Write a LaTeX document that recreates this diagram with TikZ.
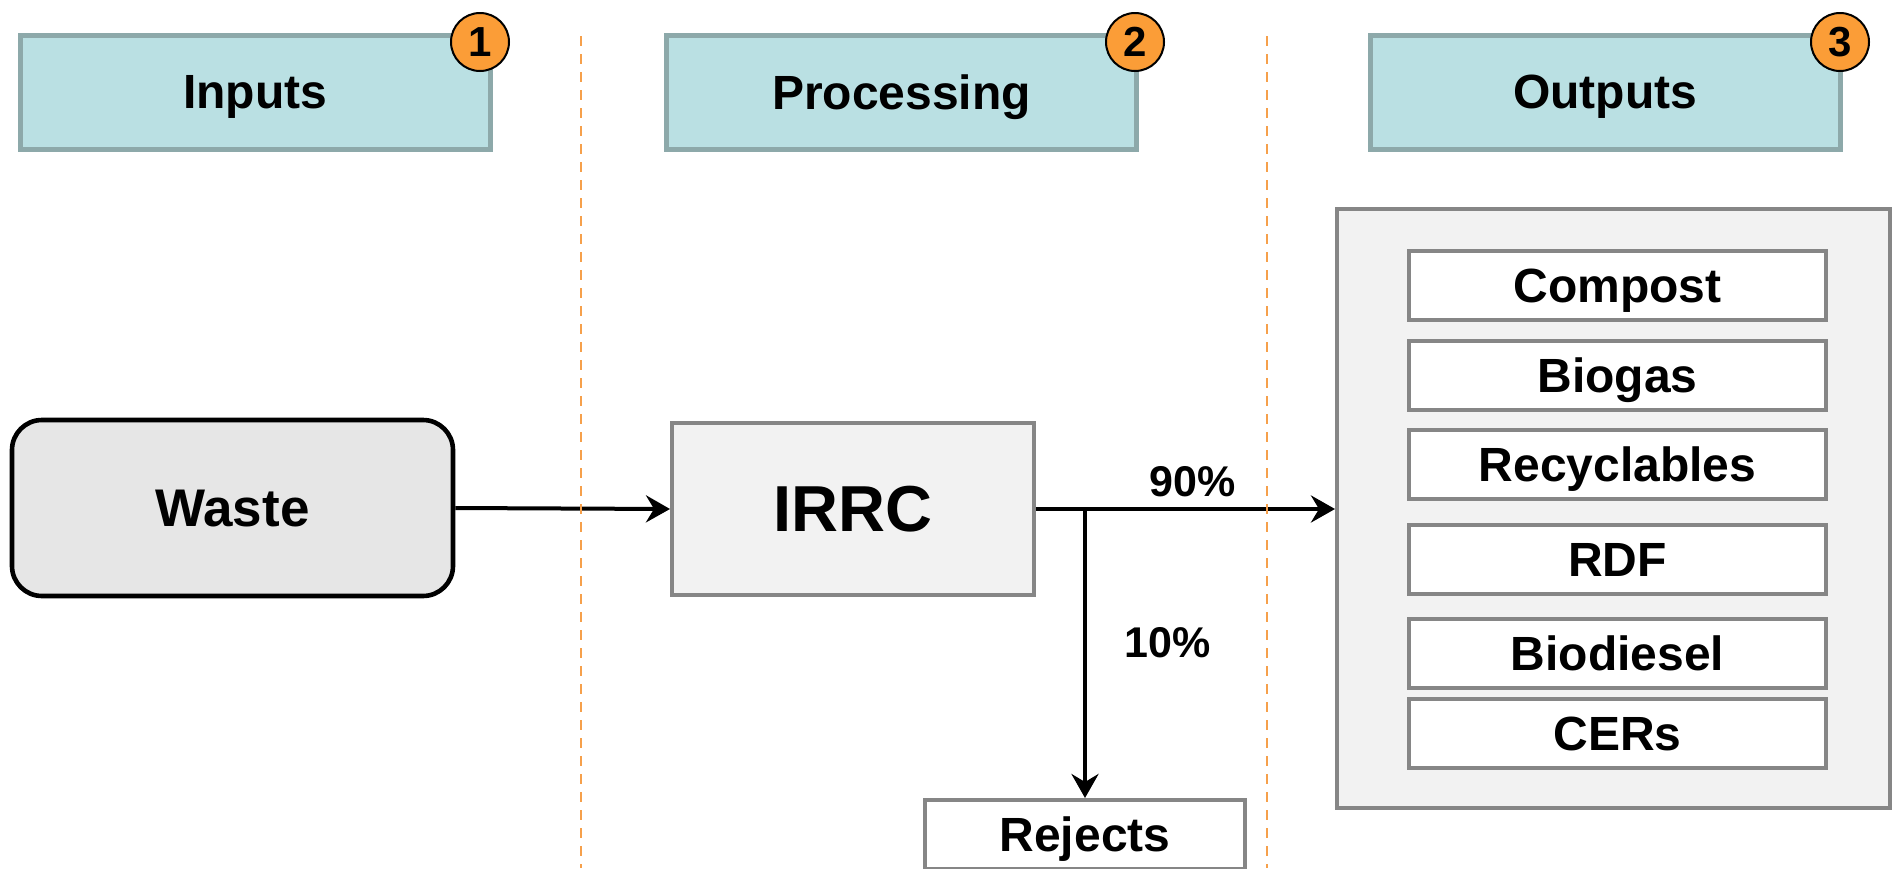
\documentclass[tikz,border=0pt]{standalone}
\usepackage{fontspec}
\setmainfont{Liberation Sans}
\usetikzlibrary{arrows.meta}
\definecolor{hdrfill}{HTML}{BAE0E3}
\definecolor{hdrline}{HTML}{8DA9AA}
\definecolor{badgefill}{HTML}{FB9D37}
\definecolor{boxline}{HTML}{868686}
\definecolor{panelfill}{HTML}{F2F2F2}
\definecolor{wastefill}{HTML}{E6E6E6}
\definecolor{sepcolor}{HTML}{F6A04B}
\begin{document}
\begin{tikzpicture}[x=0.5pt,y=-0.5pt,
  every node/.style={font=\bfseries\fontsize{24pt}{28pt}\selectfont, inner sep=0pt, text depth=0pt},
  header/.style={draw=hdrline, fill=hdrfill, line width=2.5pt, minimum width=235pt, minimum height=57pt},
  badgenode/.style={circle, draw=black, fill=badgefill, line width=1pt, minimum size=29pt,
    font=\bfseries\fontsize{21pt}{24pt}\selectfont},
  wastebox/.style={draw=black, fill=wastefill, line width=2.3pt, rounded corners=15pt,
    minimum width=220.5pt, minimum height=88pt, font=\bfseries\fontsize{26.5pt}{30pt}\selectfont},
  procbox/.style={draw=boxline, fill=panelfill, line width=2pt,
    minimum width=181pt, minimum height=86pt, font=\bfseries\fontsize{32.5pt}{36pt}\selectfont},
  panel/.style={draw=boxline, fill=panelfill, line width=2pt, minimum width=276.5pt, minimum height=299.5pt},
  item/.style={draw=boxline, fill=white, line width=2pt, minimum width=208.5pt, minimum height=34.5pt},
  rejbox/.style={draw=boxline, fill=white, line width=2pt, minimum width=160pt, minimum height=34.5pt},
  pct/.style={anchor=base, font=\bfseries\fontsize{21.5pt}{24pt}\selectfont},
  conn/.style={draw=black, line width=2pt, -{Stealth[length=12pt,width=13.5pt,inset=4pt]}},
  sepline/.style={draw=sepcolor, line width=1.25pt, dash pattern=on 5pt off 4pt}
]
\useasboundingbox (0,0) rectangle (1896,868);
\fill[white] (0,0) rectangle (1896,868);

% headers
\node[header] (inp) at (255,92) {Inputs};
\node[header] (proc) at (901.5,92) {Processing};
\node[header] (outp) at (1605,92) {Outputs};
\node[badgenode] (b1) at (480,42) {1};
\node[badgenode] (b2) at (1135,42) {2};
\node[badgenode] (b3) at (1840,42) {3};

% main nodes
\node[wastebox] (waste) at (232.5,508) {Waste};
\node[procbox] (irrc) at (853,509) {IRRC};
\node[panel] (out) at (1613.5,508.5) {};
\node[item] (compost) at (1617.5,285.5) {Compost};
\node[item] (biogas) at (1617.5,375) {Biogas};
\node[item] (recyc) at (1617.5,464.5) {Recyclables};
\node[item] (rdf) at (1617.5,559.5) {RDF};
\node[item] (biod) at (1617.5,653) {Biodiesel};
\node[item] (cers) at (1617.5,733.5) {CERs};
\node[rejbox] (rej) at (1085,834.5) {Rejects};

% connectors
\draw[conn] (waste.east) -- (irrc.west);
\draw[conn] (irrc.east) -- (irrc.east -| out.west);
\coordinate (j) at (irrc.east -| rej.north);
\draw[conn] (j) -- (rej.north);

% labels
\node[pct] (p90) at (1193,496) {90\%};
\node[pct] (p10) at (1168,657) {10\%};

% separators
\draw[sepline] (581,36) -- (581,868);
\draw[sepline] (1267,36) -- (1267,868);
\end{tikzpicture}
\end{document}
